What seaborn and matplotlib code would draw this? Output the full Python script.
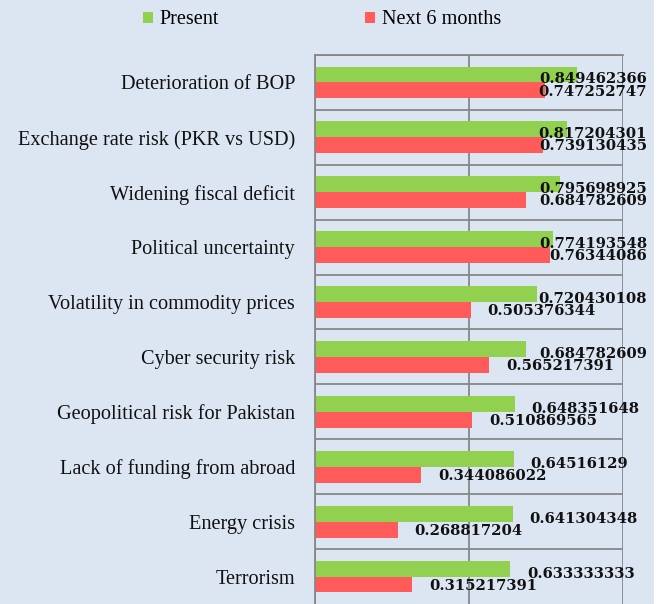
import numpy as np
import pandas as pd
import matplotlib
matplotlib.use("Agg")
import matplotlib.pyplot as plt
import seaborn as sns
from matplotlib.patches import Patch, Rectangle

categories = [
    "Deterioration of BOP",
    "Exchange rate risk (PKR vs USD)",
    "Widening fiscal deficit",
    "Political uncertainty",
    "Volatility in commodity prices",
    "Cyber security risk",
    "Geopolitical risk for Pakistan",
    "Lack of funding from abroad",
    "Energy crisis",
    "Terrorism",
]
present = [0.849462366, 0.817204301, 0.795698925, 0.774193548, 0.720430108,
           0.684782609, 0.648351648, 0.64516129, 0.641304348, 0.633333333]
next6 = [0.747252747, 0.739130435, 0.684782609, 0.76344086, 0.505376344,
         0.565217391, 0.510869565, 0.344086022, 0.268817204, 0.315217391]
series = ["Present", "Next 6 months"]
colors = ["#92D050", "#FF5B5B"]

BG = "#DCE6F2"
GRID = "#878787"

df = pd.DataFrame({
    "category": categories * 2,
    "value": present + next6,
    "series": [series[0]] * len(categories) + [series[1]] * len(categories),
})

fig = plt.figure(figsize=(6.6, 6.04), dpi=100, facecolor=BG)
fig.patches.append(Rectangle((654 / 660, 0), 6 / 660, 1, transform=fig.transFigure,
                             facecolor="white", edgecolor="none", zorder=0))
ax = fig.add_axes([315 / 660, 0, 308 / 660, 549 / 604])
ax.set_facecolor(BG)

sns.barplot(data=df, y="category", x="value", hue="series", hue_order=series,
            order=categories, palette=colors, orient="h", width=0.58, gap=0,
            dodge=True, saturation=1, linewidth=0, edgecolor="none", ax=ax,
            legend=False, zorder=3)

ax.set_xlim(0, 1)
ax.set_ylim(9.5, -0.5)
ax.set_xlabel("")
ax.set_ylabel("")
ax.set_xticks([0, 0.5, 1.0])
ax.set_xticklabels([])
ax.tick_params(axis="x", length=0)
ax.set_yticks(range(len(categories)))
ax.set_yticklabels(categories, fontsize=14.6, family="Liberation Serif", color="#111111")
ax.tick_params(axis="y", length=0, pad=14.4)
ax.set_yticks(np.arange(-0.5, 9.0, 1), minor=True)
ax.tick_params(axis="y", which="minor", length=0)
ax.grid(axis="x", which="major", color=GRID, linewidth=1.3, zorder=1)
ax.grid(axis="y", which="minor", color=GRID, linewidth=1.3, zorder=1)
ax.grid(axis="y", which="major", visible=False)
ax.set_axisbelow(True)
for s in ["right", "bottom"]:
    ax.spines[s].set_visible(False)
for s in ["left", "top"]:
    ax.spines[s].set_color(GRID)
    ax.spines[s].set_linewidth(1.3)
    ax.spines[s].set_zorder(4)

# data labels
texts = []
for i in range(len(categories)):
    for vals, off in ((present, -0.145 + 0.09), (next6, 0.145 + 0.02)):
        v = vals[i]
        t = ax.text(v + 0.055, i + off, f"{v:.9g}", ha="left", va="center",
                    fontsize=10.6, fontweight="bold", family="DejaVu Serif",
                    color="#111111", zorder=5, clip_on=False)
        texts.append(t)

fig.canvas.draw()
r = fig.canvas.get_renderer()
limit_px = 647
for t in texts:
    bb = t.get_window_extent(r)
    if bb.x1 > limit_px:
        xd, yd = t.get_position()
        shift = (bb.x1 - limit_px) / (308)
        t.set_position((xd - shift, yd))

handles = [Patch(facecolor=c, edgecolor="none") for c in colors]
fig.legend(handles, series, loc="center left", bbox_to_anchor=(143 / 660, 1 - 20 / 604),
           ncol=2, frameon=False, prop={"family": "Liberation Serif", "size": 14.6},
           handlelength=0.5, handleheight=0.5, handletextpad=0.32,
           columnspacing=7.2, borderpad=0, borderaxespad=0)

fig.savefig("out.png", dpi=100, facecolor=fig.get_facecolor())
